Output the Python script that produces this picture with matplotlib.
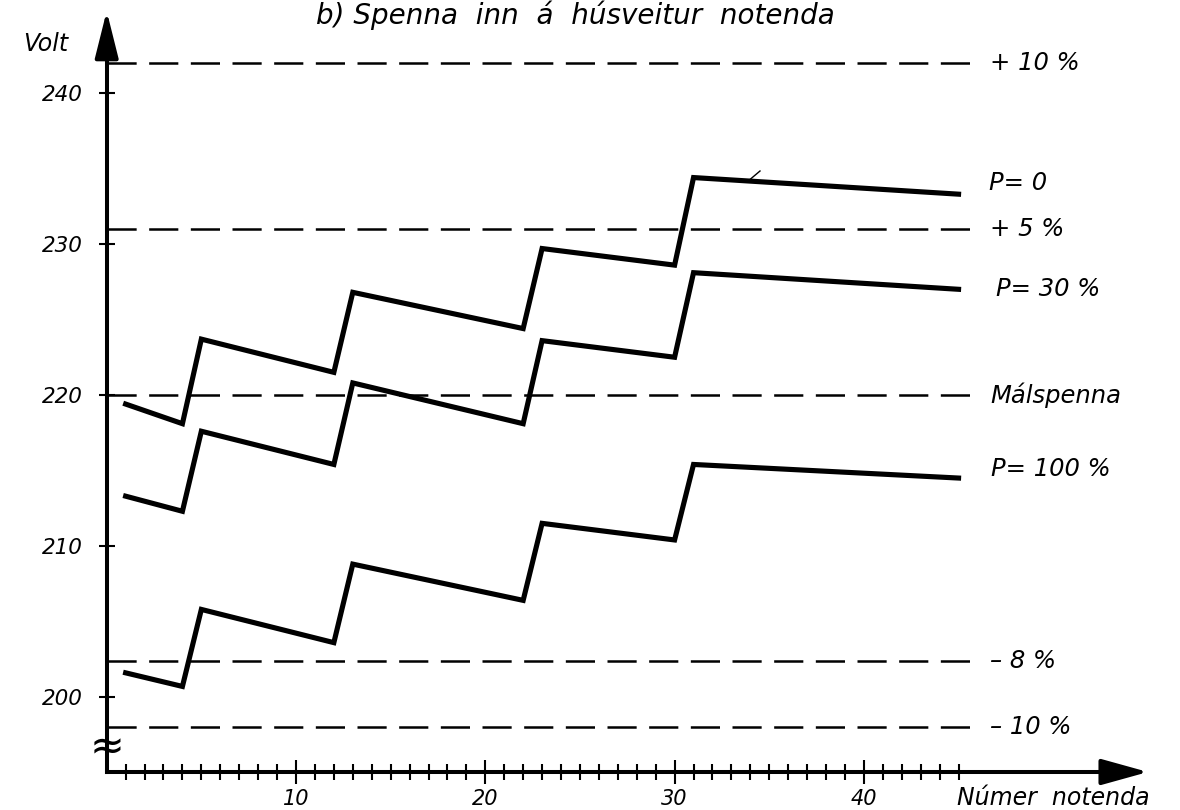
import matplotlib
matplotlib.use("Agg")
import matplotlib.pyplot as plt
from matplotlib.ticker import FixedLocator, NullFormatter

plt.rcParams["font.family"] = ["DejaVu Sans"]
plt.rcParams["lines.scale_dashes"] = False

# Number of customers along the feeder (break points of the voltage profile)
notendur = [1, 4, 5, 12, 13, 22, 23, 30, 31, 45]

# Voltage at the service entrance for three load levels
spenna_p0 = [219.4, 218.1, 223.7, 221.5, 226.8, 224.4, 229.7, 228.6, 234.4, 233.3]
spenna_p30 = [213.3, 212.3, 217.6, 215.4, 220.8, 218.1, 223.6, 222.5, 228.1, 227.0]
spenna_p100 = [201.6, 200.7, 205.8, 203.6, 208.8, 206.4, 211.5, 210.4, 215.4, 214.5]
ferlar_merki = ["P= 0", "P= 30 %", "P= 100 %"]

# Rated voltage and tolerance limits
malspenna = 220
vikmork = [242, 231, 220, 202.4, 198]
vikmork_merki = ["+ 10 %", "+ 5 %", "Málspenna", "– 8 %", "– 10 %"]

y_merki = [200, 210, 220, 230, 240]
x_merki = [10, 20, 30, 40]
x_smamerki = list(range(1, 46))

titill = "b) Spenna  inn  á  húsveitur  notenda"
x_heiti = "Númer  notenda"
y_heiti = "Volt"

# Pixel geometry of the drawing (figure is 1180 x 810 px)
X0PX, XS = 106.7, 18.93   # px of x = 0, px per customer
Y0PX, YS = 395.0, 15.1    # px of 220 V, px per volt


def dx(px):
    return (px - X0PX) / XS


def dv(py):
    return malspenna - (py - Y0PX) / YS


fig = plt.figure(figsize=(11.8, 8.1), dpi=100)
ax = fig.add_axes([0, 0, 1, 1])
ax.set_xlim(dx(0), dx(1180))
ax.set_ylim(dv(810), dv(0))
ax.set_facecolor("white")

txt = dict(style="italic", color="black")

# Axes as drawn lines with arrow heads
x_axis_v = dv(772)
for side in ("top", "right"):
    ax.spines[side].set_visible(False)
ax.spines["left"].set_position(("data", 0))
ax.spines["bottom"].set_position(("data", x_axis_v))
ax.spines["left"].set_bounds(x_axis_v, dv(40))
ax.spines["bottom"].set_bounds(0, dx(1120))
for s in ("left", "bottom"):
    ax.spines[s].set_linewidth(2.9)
    ax.spines[s].set_capstyle("projecting")

ax.annotate("", xy=(0, dv(11)), xytext=(0, dv(46)),
            arrowprops=dict(arrowstyle="-|>,head_length=1.8,head_width=0.45",
                            lw=2.9, color="black", mutation_scale=16,
                            shrinkA=0, shrinkB=0))
ax.annotate("", xy=(dx(1148), x_axis_v), xytext=(dx(1110), x_axis_v),
            arrowprops=dict(arrowstyle="-|>,head_length=1.8,head_width=0.5",
                            lw=2.9, color="black", mutation_scale=16,
                            shrinkA=0, shrinkB=0))

ax.xaxis.set_major_locator(FixedLocator(x_merki))
ax.xaxis.set_minor_locator(FixedLocator([v for v in x_smamerki if v not in x_merki]))
ax.xaxis.set_minor_formatter(NullFormatter())
ax.yaxis.set_major_locator(FixedLocator(y_merki))
ax.tick_params(axis="x", which="major", direction="inout", length=17, width=1.5,
               pad=4, labelsize=15)
ax.tick_params(axis="x", which="minor", direction="inout", length=11, width=1.5)
ax.tick_params(axis="y", which="major", direction="inout", length=11, width=1.5,
               pad=12, labelsize=15.5)
for lab in ax.get_xticklabels() + ax.get_yticklabels():
    lab.set_style("italic")

# Axis break mark
ax.text(0, dv(747), "≈", ha="center", va="center", fontsize=30, color="black")

# Tolerance lines
for v, lab in zip(vikmork, vikmork_merki):
    ax.plot([0, dx(978)], [v, v], color="black", lw=1.8,
            linestyle=(0, (21, 9)), solid_capstyle="butt")
    ax.text(dx(990), v, lab, ha="left", va="center", fontsize=17.5, **txt)

# Voltage profiles
ferlar = [spenna_p0, spenna_p30, spenna_p100]
hlidrun = [(30, 11), (37, 0), (32, 9)]
for gildi, lab, (ox, oy) in zip(ferlar, ferlar_merki, hlidrun):
    ax.plot(notendur, gildi, color="black", lw=3.7, solid_joinstyle="miter")
    ax.annotate(lab, xy=(notendur[-1], gildi[-1]), xytext=(ox, oy),
                textcoords="offset pixels", ha="left", va="center",
                fontsize=17.5, **txt)

# Small pen stroke on the top profile
ax.plot([dx(747), dx(760)], [dv(182), dv(171)], color="black", lw=1.0)

ax.text(dx(46), dv(44), y_heiti, ha="center", va="center", fontsize=17, **txt)
ax.text(dx(1150), dv(798), x_heiti, ha="right", va="center", fontsize=17, **txt)
ax.text(dx(575), dv(1), titill, ha="center", va="top", fontsize=20, **txt)

fig.savefig("out.png", dpi=100, facecolor="white")
